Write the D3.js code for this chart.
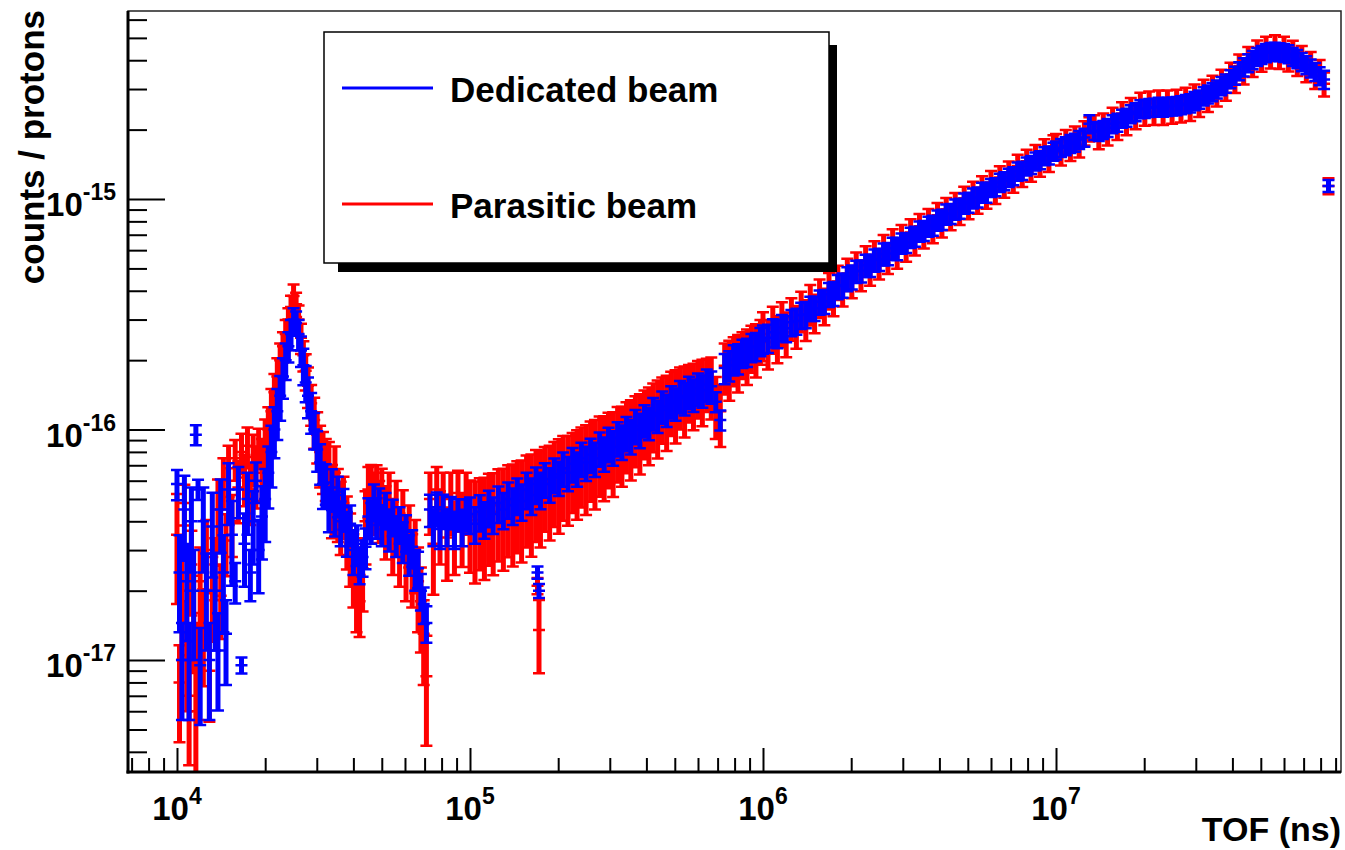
<!DOCTYPE html>
<html>
<head>
<meta charset="utf-8">
<script src="https://cdn.jsdelivr.net/npm/d3@7"></script>
<style>
  body { margin: 0; background: #fff; }
  svg { display: block; font-family: "Liberation Sans", Arial, Helvetica, sans-serif; font-weight: bold; }
</style>
</head>
<body>
<script>
// time of flight bins (ns), shared by both histograms
const tofNs = [
  // 10^4 decade
  1.00e4,1.02e4,1.04e4,1.06e4,1.08e4,1.10e4,1.12e4,1.14e4,1.16e4,1.18e4,
  1.20e4,1.23e4,1.26e4,1.29e4,1.32e4,1.35e4,1.38e4,1.41e4,1.44e4,1.47e4,
  1.50e4,1.54e4,1.58e4,1.62e4,1.66e4,1.70e4,1.74e4,1.78e4,1.82e4,1.86e4,
  1.90e4,1.95e4,2.00e4,2.05e4,2.10e4,2.15e4,2.20e4,2.25e4,2.30e4,2.35e4,
  2.40e4,2.45e4,2.50e4,2.55e4,2.60e4,2.65e4,2.70e4,2.75e4,2.80e4,2.87e4,
  2.94e4,3.01e4,3.08e4,3.15e4,3.22e4,3.30e4,3.38e4,3.46e4,3.54e4,3.62e4,
  3.70e4,3.80e4,3.90e4,4.00e4,4.10e4,4.20e4,4.30e4,4.40e4,4.50e4,4.60e4,
  4.70e4,4.80e4,4.90e4,5.00e4,5.15e4,5.30e4,5.45e4,5.60e4,5.75e4,5.90e4,
  6.05e4,6.20e4,6.35e4,6.50e4,6.65e4,6.80e4,6.95e4,7.10e4,7.30e4,7.50e4,
  7.70e4,7.90e4,8.10e4,8.35e4,8.60e4,8.85e4,9.10e4,9.40e4,9.70e4,
  // 10^5 decade
  1.00e5,1.04e5,1.08e5,1.12e5,1.16e5,1.20e5,1.25e5,1.30e5,1.35e5,1.40e5,
  1.45e5,1.50e5,1.56e5,1.62e5,1.68e5,1.70e5,1.72e5,1.74e5,1.80e5,1.87e5,
  1.94e5,2.01e5,2.08e5,2.16e5,2.24e5,2.32e5,2.40e5,2.49e5,2.58e5,2.67e5,
  2.77e5,2.87e5,2.97e5,3.08e5,3.19e5,3.30e5,3.42e5,3.54e5,3.67e5,3.80e5,
  3.94e5,4.08e5,4.22e5,4.37e5,4.53e5,4.69e5,4.86e5,5.03e5,5.21e5,5.40e5,
  5.59e5,5.79e5,6.00e5,6.21e5,6.43e5,6.66e5,6.90e5,7.15e5,7.40e5,7.67e5,
  7.94e5,8.22e5,8.51e5,8.82e5,9.13e5,9.46e5,9.80e5,
  // 10^6 decade
  1.00e6,1.04e6,1.08e6,1.12e6,1.16e6,1.20e6,1.25e6,1.30e6,1.35e6,1.40e6,
  1.45e6,1.50e6,1.56e6,1.62e6,1.68e6,1.74e6,1.80e6,1.87e6,1.94e6,2.01e6,
  2.08e6,2.16e6,2.24e6,2.32e6,2.40e6,2.49e6,2.58e6,2.67e6,2.77e6,2.87e6,
  2.97e6,3.08e6,3.19e6,3.30e6,3.42e6,3.54e6,3.67e6,3.80e6,3.94e6,4.08e6,
  4.22e6,4.37e6,4.53e6,4.69e6,4.86e6,5.03e6,5.21e6,5.40e6,5.59e6,5.79e6,
  6.00e6,6.21e6,6.43e6,6.66e6,6.90e6,7.15e6,7.40e6,7.67e6,7.94e6,8.22e6,
  8.51e6,8.82e6,9.13e6,9.46e6,9.80e6,
  // 10^7 decade
  1.00e7,1.04e7,1.08e7,1.12e7,1.16e7,1.20e7,1.25e7,1.30e7,1.35e7,1.40e7,
  1.45e7,1.50e7,1.56e7,1.62e7,1.68e7,1.74e7,1.80e7,1.87e7,1.94e7,2.01e7,
  2.08e7,2.16e7,2.24e7,2.32e7,2.40e7,2.49e7,2.58e7,2.67e7,2.77e7,2.87e7,
  2.97e7,3.08e7,3.19e7,3.30e7,3.42e7,3.54e7,3.67e7,3.80e7,3.94e7,4.08e7,
  4.22e7,4.37e7,4.53e7,4.69e7,4.86e7,5.03e7,5.21e7,5.40e7,5.59e7,5.79e7,
  6.00e7,6.21e7,6.43e7,6.66e7,6.90e7,7.15e7,7.40e7,7.67e7,7.94e7,8.22e7,
  8.51e7
];

// counts / protons, in units of 1e-17
const COUNT_UNIT = 1e-17;

const dedicated = [
  5.8,2.4,1.0,4.5,2.2,1.0,4.0,2.0,9.5,5.5,
  0.95,4.0,2.0,1.0,3.8,2.0,1.1,4.5,2.4,1.3,
  5.5,3.5,2.2,5.5,0.95,3.2,5.0,2.4,4.0,6.0,
  3.0,4.2,5.0,6.5,8.0,10,12,14,17,20,
  23,26,30,29,26,22,19,16,14,12,
  10,8.2,7.2,5.8,5.9,4.6,5.6,4.4,5.2,4.0,
  4.6,3.6,3.9,3.0,3.2,2.6,2.8,3.1,4.2,4.0,
  4.9,4.2,4.7,3.9,4.5,3.7,4.2,3.5,3.9,3.3,
  3.6,2.9,3.1,2.5,2.5,2.0,1.75,1.45,4.5,3.8,
  4.6,3.7,4.5,3.8,4.4,3.7,4.3,3.8,4.3,

  4.3,3.9,4.4,4.1,4.6,4.3,4.8,4.5,5.0,4.7,
  5.2,4.9,5.5,5.2,5.8,2.4,2.0,5.5,6.1,5.8,
  6.4,6.2,6.8,6.5,7.1,6.8,7.5,7.2,7.8,7.5,
  8.3,7.9,8.7,8.4,9.2,8.9,9.7,9.4,10.4,10.0,
  11.0,10.7,11.8,11.5,12.6,12.2,13.3,13.0,14.0,13.7,
  14.6,14.2,15.1,14.8,15.7,15.4,13.2,11.0,18.5,19.0,
  20.2,20.4,21.5,21.7,22.8,23.0,24.2,

  24.8,25.0,26.4,26.2,27.8,27.5,29.2,29.6,31.4,31.6,
  33.6,33.6,35.8,36.0,38.6,39.0,41.8,42.4,45.2,46.0,
  48.6,48.8,51.6,51.6,54.4,54.8,57.8,58.0,61.2,61.0,
  64.4,64.8,68.2,69.0,72.6,73.0,76.2,77.0,81.0,81.6,
  86.0,86.6,90.4,91.2,96.0,96.8,101,102,107,107,
  112,113,118,120,124,126,132,133,139,141,
  146,148,154,155,161,

  163,167,170,174,176,181,185,212,198,196,
  200,204,212,215,224,226,234,239,246,247,
  249,250,252,250,252,253,254,256,259,261,
  267,271,280,285,292,300,310,318,332,344,
  360,374,390,402,415,423,431,436,437,435,
  432,426,415,406,394,382,370,357,342,330,
  114
];

// relative errors
const dedicatedErr = [
  .15,.45,.45,.4,.45,.45,.4,.5,.1,.1,
  .45,.4,.45,.45,.4,.45,.45,.35,.45,.4,
  .3,.4,.2,.25,.08,.35,.3,.25,.35,.2,
  .35,.35,.35,.3,.3,.25,.25,.22,.2,.18,
  .15,.15,.12,.12,.15,.15,.18,.18,.2,.2,
  .18,.2,.2,.22,.2,.22,.2,.22,.2,.22,
  .2,.22,.2,.22,.2,.18,.18,.2,.2,.2,
  .18,.2,.18,.2,.18,.2,.18,.2,.18,.2,
  .18,.2,.18,.2,.18,.18,.18,.18,.16,.18,
  .16,.18,.16,.18,.16,.18,.16,.18,.16,

  .18,.18,.18,.18,.18,.18,.18,.18,.18,.18,
  .18,.18,.18,.18,.18,.06,.07,.18,.17,.17,
  .17,.17,.17,.17,.17,.17,.17,.17,.17,.17,
  .17,.17,.17,.17,.17,.17,.17,.17,.17,.17,
  .16,.16,.16,.16,.16,.16,.16,.16,.16,.16,
  .16,.16,.16,.16,.16,.16,.1,.1,.15,.15,
  .15,.15,.14,.14,.14,.14,.14,

  .14,.14,.14,.14,.13,.13,.13,.13,.13,.13,
  .12,.12,.12,.12,.12,.12,.12,.12,.12,.12,
  .11,.11,.11,.11,.11,.11,.11,.11,.11,.11,
  .1,.1,.1,.1,.1,.1,.1,.1,.1,.1,
  .1,.1,.1,.1,.1,.1,.1,.1,.1,.1,
  .09,.09,.09,.09,.09,.09,.09,.09,.09,.09,
  .09,.09,.09,.09,.09,

  .09,.09,.09,.09,.09,.09,.09,.09,.09,.09,
  .09,.09,.09,.09,.09,.09,.09,.09,.09,.09,
  .09,.09,.09,.09,.09,.09,.09,.09,.09,.09,
  .09,.09,.09,.09,.09,.09,.09,.09,.09,.09,
  .09,.09,.09,.09,.09,.09,.09,.09,.09,.09,
  .09,.09,.09,.09,.09,.09,.09,.09,.09,.09,
  .06
];

const parasitic = [
  3.5,0.8,2.0,4.8,1.2,0.7,2.6,1.6,0.6,1.0,
  2.2,1.4,3.0,0.9,2.0,2.6,4.5,1.9,6.0,3.3,
  6.8,4.0,7.5,5.6,8.0,6.2,8.5,5.5,7.6,6.5,
  8.4,7.0,8.5,10,12,14.5,17,20,23,26,
  30,34,38,35,30,25,21,18,15.5,13,
  11,9.5,8.0,7.5,7.0,6.8,5.2,6.5,5.0,4.4,
  4.8,3.8,3.2,2.6,2.2,1.8,2.5,4.0,5.5,5.4,
  5.0,5.6,4.6,5.2,4.2,5.0,3.6,4.6,3.2,4.2,
  3.0,3.6,2.6,3.0,2.2,1.8,1.3,0.85,5.0,3.2,
  5.5,4.0,5.2,3.4,5.0,3.6,5.3,3.9,5.0,

  4.2,4.05,4.3,4.2,4.5,4.4,4.7,4.6,4.9,4.8,
  5.1,5.0,5.4,5.3,5.7,2.1,1.35,5.6,6.0,5.9,
  6.3,6.3,6.7,6.6,7.0,7.0,7.4,7.35,7.85,7.75,
  8.25,8.15,8.7,8.5,9.2,9.1,9.8,9.7,10.4,10.3,
  11.1,11.1,11.9,11.9,12.75,12.6,13.6,13.4,14.3,14.0,
  14.9,14.6,15.5,15.2,16.1,15.8,13.0,12.0,18.9,18.8,
  20.3,20.1,21.5,21.4,22.9,22.7,24.5,

  26.0,24.0,27.7,25.2,29.2,26.4,30.7,28.4,33.0,30.3,
  35.3,32.3,37.6,34.6,40.5,37.4,43.9,40.7,47.5,44.2,
  51.0,46.8,54.2,49.5,57.1,52.6,60.7,55.7,64.3,58.6,
  67.6,62.2,71.6,66.2,76.2,70.1,80.0,73.9,85.1,78.3,
  90.3,83.1,94.9,87.6,100.8,92.9,106,98,112,103,
  118,108,124,115,130,121,139,128,146,135,
  153,142,162,149,169,

  171,159,178,166,184,172,194,202,206,187,
  210,194,222,205,235,215,245,228,258,236,
  261,238,264,238,264,241,266,244,271,248,
  280,258,294,271,306,286,325,303,348,328,
  378,357,408,384,435,405,452,418,458,416,
  452,406,434,388,412,365,388,341,358,316,
  114
];

const parasiticErr = [
  .5,.45,.5,.2,.5,.5,.4,.45,.5,.45,
  .4,.45,.35,.4,.4,.3,.35,.35,.25,.3,
  .25,.3,.2,.3,.2,.25,.2,.3,.25,.3,
  .2,.3,.3,.25,.25,.2,.2,.18,.15,.15,
  .12,.12,.12,.12,.15,.15,.15,.18,.2,.2,
  .25,.25,.3,.3,.3,.3,.35,.3,.35,.35,
  .3,.35,.35,.35,.4,.3,.35,.35,.25,.3,
  .3,.25,.3,.3,.35,.3,.35,.3,.35,.3,
  .4,.3,.35,.35,.4,.4,.4,.5,.3,.4,
  .25,.35,.25,.35,.3,.35,.25,.35,.3,

  .43,.47,.43,.47,.43,.47,.43,.47,.43,.47,
  .43,.47,.43,.47,.43,.08,.35,.45,.4,.44,
  .4,.44,.4,.42,.38,.42,.38,.42,.38,.42,
  .38,.4,.36,.4,.36,.38,.34,.38,.34,.38,
  .33,.37,.33,.37,.32,.36,.31,.35,.3,.34,
  .28,.32,.28,.32,.26,.3,.3,.3,.25,.29,
  .24,.28,.23,.27,.23,.26,.22,

  .24,.24,.23,.23,.22,.22,.21,.21,.2,.2,
  .2,.19,.19,.18,.18,.17,.17,.16,.16,.16,
  .15,.15,.15,.15,.15,.15,.15,.15,.15,.15,
  .14,.14,.14,.14,.13,.13,.13,.13,.13,.13,
  .12,.12,.12,.12,.12,.12,.12,.12,.12,.12,
  .12,.12,.12,.12,.12,.12,.12,.12,.12,.12,
  .12,.12,.12,.12,.12,

  .12,.12,.12,.12,.12,.12,.12,.12,.12,.12,
  .12,.12,.12,.12,.12,.12,.12,.12,.12,.12,
  .12,.12,.12,.12,.12,.12,.12,.12,.12,.12,
  .12,.12,.12,.12,.12,.12,.12,.12,.12,.12,
  .12,.12,.12,.12,.12,.12,.12,.12,.12,.12,
  .12,.12,.12,.12,.12,.12,.12,.12,.12,.12,
  .08
];

const xTickExponents = [4, 5, 6, 7];
const yTickExponents = [-17, -16, -15];
const legendEntries = [
  {label: 'Dedicated beam', color: '#0000ff'},
  {label: 'Parasitic beam', color: '#ff0000'}
];

[dedicated, dedicatedErr, parasitic, parasiticErr].forEach(a => {
  if (a.length !== tofNs.length) console.warn('length mismatch', a.length, tofNs.length);
});

const SVG_DIM = {W: 1345, H: 850};
const FRAME = {LEFT: 128, RIGHT: 1341, TOP: 11, BOTTOM: 772};
const CAP = 6;

const svg = d3.select('body').append('svg')
  .attr('width', SVG_DIM.W)
  .attr('height', SVG_DIM.H);

const x = d3.scaleLog()
  .domain([6805, 9.39e7])
  .range([FRAME.LEFT, FRAME.RIGHT]);

const y = d3.scaleLog()
  .domain([3.27e-18, 6.54e-15])
  .range([FRAME.BOTTOM, FRAME.TOP]);

svg.append('defs').append('clipPath').attr('id', 'frame-clip')
  .append('rect')
  .attr('x', FRAME.LEFT).attr('y', FRAME.TOP)
  .attr('width', FRAME.RIGHT - FRAME.LEFT).attr('height', FRAME.BOTTOM - FRAME.TOP);

// data: error bars, red drawn first, blue on top
const plot = svg.append('g').attr('clip-path', 'url(#frame-clip)');

function drawSeries(counts, errs, color) {
  const pts = tofNs.map((t, i) => ({t: t, v: counts[i] * COUNT_UNIT, e: errs[i]}));
  const g = plot.append('g');

  // vertical error bars
  g.append('g').selectAll('line')
    .data(pts)
    .enter()
    .append('line')
    .attr('x1', d => x(d.t)).attr('x2', d => x(d.t))
    .attr('y1', d => y(d.v * (1 - d.e)))
    .attr('y2', d => y(d.v * (1 + d.e)))
    .attr('stroke', color)
    .attr('stroke-width', 5);

  // end caps and bin marker
  g.append('g').selectAll('path')
    .data(pts)
    .enter()
    .append('path')
    .attr('d', d => {
      const px = x(d.t), py = y(d.v);
      const hi = y(d.v * (1 + d.e)), lo = y(d.v * (1 - d.e));
      return 'M' + (px - CAP) + ',' + hi + 'H' + (px + CAP) +
        'M' + (px - CAP) + ',' + lo + 'H' + (px + CAP) +
        'M' + (px - CAP) + ',' + py + 'H' + (px + CAP);
    })
    .attr('fill', 'none')
    .attr('stroke', color)
    .attr('stroke-width', 2.5);
}

drawSeries(parasitic, parasiticErr, '#ff0000');
drawSeries(dedicated, dedicatedErr, '#0000ff');

// frame
svg.append('rect')
  .attr('x', FRAME.LEFT).attr('y', FRAME.TOP)
  .attr('width', FRAME.RIGHT - FRAME.LEFT).attr('height', FRAME.BOTTOM - FRAME.TOP)
  .attr('fill', 'none').attr('stroke', '#222').attr('stroke-width', 1.5);

// x axis ticks
const xMajor = xTickExponents.map(e => Math.pow(10, e));
const xMinor = x.ticks().filter(v => !xMajor.some(m => Math.abs(v / m - 1) < 1e-6));

const xAxis = svg.append('g').attr('transform', 'translate(0,' + FRAME.BOTTOM + ')');
xAxis.append('g')
  .call(d3.axisBottom(x).tickValues(xMajor).tickSizeInner(-24).tickSizeOuter(0).tickFormat(''));
xAxis.append('g')
  .call(d3.axisBottom(x).tickValues(xMinor).tickSizeInner(-14).tickSizeOuter(0).tickFormat(''));
xAxis.selectAll('.domain').remove();
xAxis.selectAll('line').attr('stroke', '#000').attr('stroke-width', 2);

// y axis ticks
const yMajor = yTickExponents.map(e => Math.pow(10, e));
const yMinor = y.ticks().filter(v => !yMajor.some(m => Math.abs(v / m - 1) < 1e-6));

const yAxis = svg.append('g').attr('transform', 'translate(' + FRAME.LEFT + ',0)');
yAxis.append('g')
  .call(d3.axisLeft(y).tickValues(yMajor).tickSizeInner(-37).tickSizeOuter(0).tickFormat(''));
yAxis.append('g')
  .call(d3.axisLeft(y).tickValues(yMinor).tickSizeInner(-19).tickSizeOuter(0).tickFormat(''));
yAxis.selectAll('.domain').remove();
yAxis.selectAll('line').attr('stroke', '#000').attr('stroke-width', 2);

// thick axis lines
svg.append('line')
  .attr('x1', FRAME.LEFT).attr('x2', FRAME.LEFT)
  .attr('y1', FRAME.TOP).attr('y2', FRAME.BOTTOM + 1.5)
  .attr('stroke', '#000').attr('stroke-width', 3);
svg.append('line')
  .attr('x1', FRAME.LEFT - 1.5).attr('x2', FRAME.RIGHT)
  .attr('y1', FRAME.BOTTOM).attr('y2', FRAME.BOTTOM)
  .attr('stroke', '#000').attr('stroke-width', 3);

// tick labels
function powerLabel(sel, exp) {
  sel.append('tspan').text('10');
  sel.append('tspan').attr('font-size', 23).attr('dy', -16).text(exp);
}

xTickExponents.forEach(e => {
  svg.append('text')
    .attr('x', x(Math.pow(10, e)))
    .attr('y', 820)
    .attr('text-anchor', 'middle')
    .attr('font-size', 33)
    .call(powerLabel, e);
});

yTickExponents.forEach(e => {
  svg.append('text')
    .attr('x', 116)
    .attr('y', y(Math.pow(10, e)) + 17)
    .attr('text-anchor', 'end')
    .attr('font-size', 33)
    .call(powerLabel, e);
});

// axis titles
svg.append('text')
  .attr('x', FRAME.RIGHT)
  .attr('y', 841)
  .attr('text-anchor', 'end')
  .attr('font-size', 34)
  .text('TOF (ns)');

svg.append('text')
  .attr('transform', 'translate(44,10) rotate(-90)')
  .attr('text-anchor', 'end')
  .attr('font-size', 35)
  .text('counts / protons');

// legend
const legend = svg.append('g').attr('id', 'legend');
legend.append('rect')
  .attr('x', 338).attr('y', 45).attr('width', 499).attr('height', 227)
  .attr('fill', '#000');
legend.append('rect')
  .attr('x', 324).attr('y', 32).attr('width', 505).attr('height', 231)
  .attr('fill', '#fff').attr('stroke', '#000').attr('stroke-width', 1.5);

legend.selectAll('g.entry')
  .data(legendEntries)
  .enter()
  .append('g')
  .attr('class', 'entry')
  .attr('transform', (d, i) => 'translate(0,' + (88 + i * 116) + ')')
  .each(function(d) {
    const g = d3.select(this);
    g.append('line')
      .attr('x1', 342).attr('x2', 433).attr('y1', 0).attr('y2', 0)
      .attr('stroke', d.color).attr('stroke-width', 3);
    g.append('text')
      .attr('x', 450).attr('y', 14)
      .attr('font-size', 35)
      .text(d.label);
  });
</script>
</body>
</html>
